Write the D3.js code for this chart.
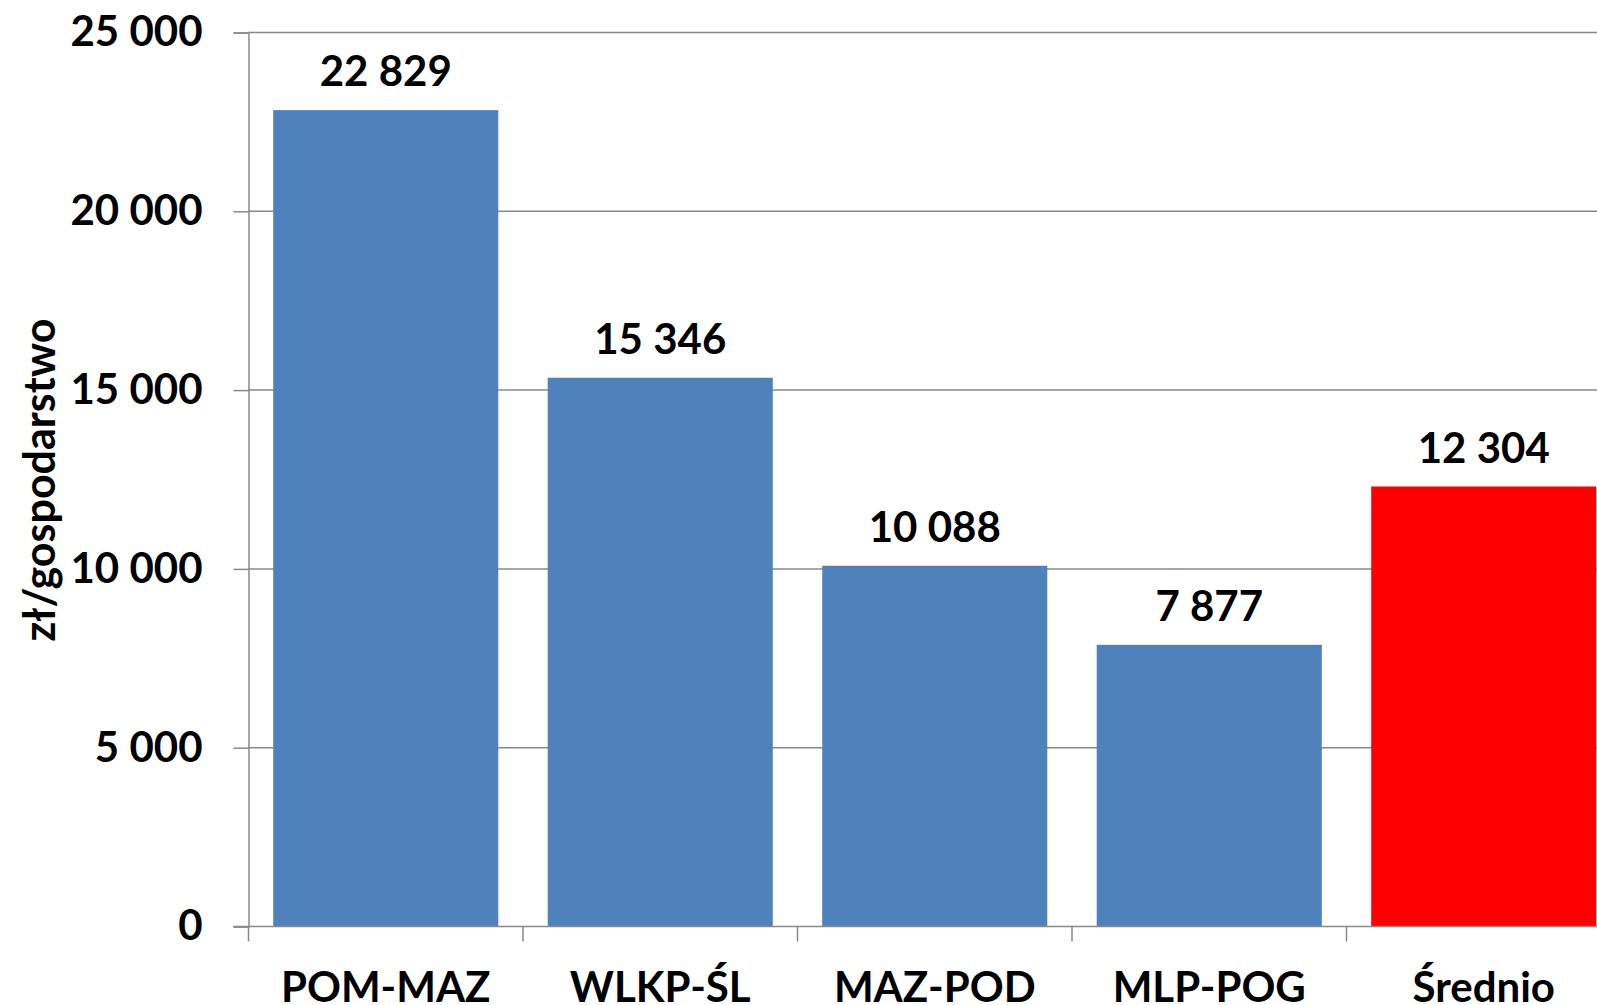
<!DOCTYPE html>
<html>
<head>
<meta charset="utf-8">
<script src="https://cdn.jsdelivr.net/npm/d3@7"></script>
<style>
    body { margin: 0; background: #fff; }
    svg { display: block; font-family: Lato, "Open Sans", sans-serif; font-weight: 700; }
</style>
</head>
<body>
<div id="chart"></div>
<script>
// Chart values
var categories = ["POM-MAZ", "WLKP-ŚL", "MAZ-POD", "MLP-POG", "Średnio"];
var values = [22829, 15346, 10088, 7877, 12304];
var barColors = ["#4f81bd", "#4f81bd", "#4f81bd", "#4f81bd", "#ff0000"];
var yTicks = [0, 5000, 10000, 15000, 20000, 25000];
var yTitle = "zł/gospodarstwo";

(function() {
    var svgWidth = 1597, svgHeight = 1005;
    var plotLeft = 248.5, plotTop = 32.5, plotBottom = 926.5, bandW = 274.5;

    // Number format with space as thousands separator
    var fmt = function(v) { return d3.format(",")(v).replace(/,/g, " "); };

    var svg = d3.select("#chart").append("svg")
        .attr("width", svgWidth)
        .attr("height", svgHeight);

    var x = d3.scaleBand()
        .domain(categories)
        .range([plotLeft, plotLeft + bandW * categories.length])
        .paddingInner(0.18)
        .paddingOuter(0.09);

    var y = d3.scaleLinear()
        .domain([0, 25000])
        .range([plotBottom, plotTop]);

    // Gridlines
    svg.append("g")
        .selectAll("line")
        .data(yTicks.filter(d => d > 0))
        .join("line")
            .attr("x1", plotLeft)
            .attr("x2", svgWidth)
            .attr("y1", d => y(d))
            .attr("y2", d => y(d))
            .attr("stroke", "#898989")
            .attr("stroke-width", 1.5);

    // Y axis
    var yAxis = svg.append("g")
        .attr("transform", "translate(" + plotLeft + ",0)")
        .call(d3.axisLeft(y).tickValues(yTicks).tickFormat(fmt).tickSize(15).tickPadding(31));
    yAxis.select(".domain").attr("stroke", "#898989").attr("stroke-width", 1.5);
    yAxis.selectAll(".tick line").attr("stroke", "#898989").attr("stroke-width", 1.5);
    yAxis.selectAll(".tick text")
        .attr("fill", "#000")
        .style("font-size", "42px")
        .style("font-weight", 700)
        .style("font-family", "Lato, sans-serif");

    // Bars
    svg.append("g")
        .selectAll("rect")
        .data(values)
        .join("rect")
            .attr("x", (d, i) => x(categories[i]))
            .attr("width", x.bandwidth())
            .attr("y", d => y(d))
            .attr("height", d => y(0) - y(d))
            .attr("fill", (d, i) => barColors[i]);

    // X axis with ticks between categories
    var xAxisG = svg.append("g");
    xAxisG.append("line")
        .attr("x1", plotLeft - 15)
        .attr("x2", svgWidth)
        .attr("y1", y(0))
        .attr("y2", y(0))
        .attr("stroke", "#898989")
        .attr("stroke-width", 1.5);
    xAxisG.selectAll(".xtick")
        .data(d3.range(categories.length + 1))
        .join("line")
            .attr("class", "xtick")
            .attr("x1", i => plotLeft + i * bandW)
            .attr("x2", i => plotLeft + i * bandW)
            .attr("y1", y(0))
            .attr("y2", y(0) + 15)
            .attr("stroke", "#898989")
            .attr("stroke-width", 1.5);
    xAxisG.selectAll(".xlabel")
        .data(categories)
        .join("text")
            .attr("class", "xlabel")
            .attr("x", d => x(d) + x.bandwidth() / 2)
            .attr("y", 1002)
            .attr("text-anchor", "middle")
            .style("font-size", "42px")
            .text(d => d);

    // Value labels
    svg.append("g")
        .selectAll("text")
        .data(values)
        .join("text")
            .attr("x", (d, i) => x(categories[i]) + x.bandwidth() / 2)
            .attr("y", d => y(d) - 24)
            .attr("text-anchor", "middle")
            .style("font-size", "42px")
            .text(d => fmt(d));

    // Y axis title
    svg.append("text")
        .attr("transform", "translate(55,480) rotate(-90)")
        .attr("text-anchor", "middle")
        .style("font-size", "43px")
        .text(yTitle);
})();
</script>
</body>
</html>
